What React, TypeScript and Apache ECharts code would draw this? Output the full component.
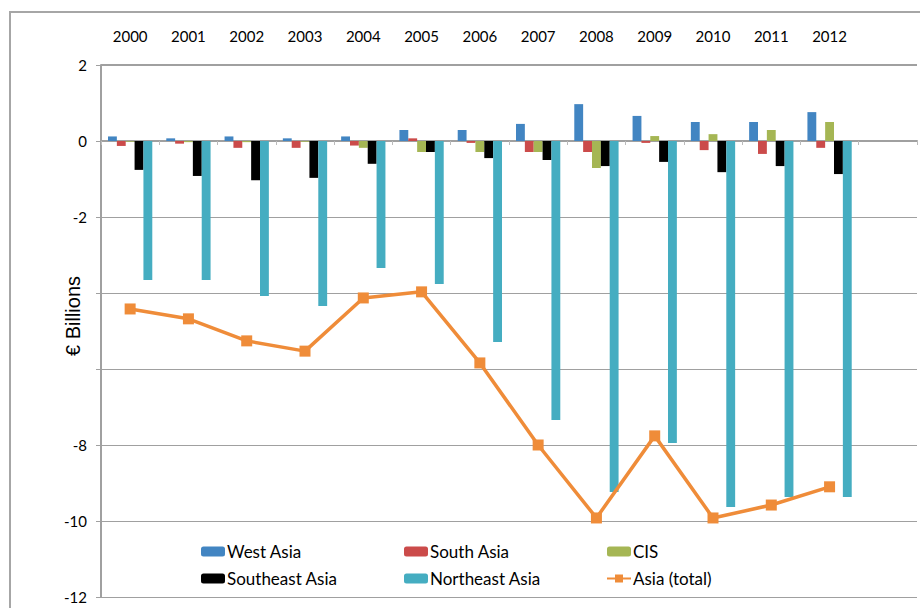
import React, { useEffect, useRef } from "react";
import * as echarts from "echarts";

// Years shown along the top; the trailing empty slot keeps the axis running on to the right edge.
const years = ["2000", "2001", "2002", "2003", "2004", "2005", "2006", "2007", "2008", "2009", "2010", "2011", "2012", ""];

// Balances in € billions per region
const westAsia = [0.12, 0.07, 0.12, 0.07, 0.12, 0.29, 0.29, 0.45, 0.97, 0.66, 0.5, 0.5, 0.76];
const southAsia = [-0.13, -0.07, -0.18, -0.18, -0.12, 0.07, -0.05, -0.29, -0.29, -0.05, -0.24, -0.34, -0.18];
const cis = [-0.02, -0.03, -0.03, -0.02, -0.18, -0.29, -0.29, -0.29, -0.71, 0.13, 0.18, 0.29, 0.5];
const southeastAsia = [-0.76, -0.92, -1.03, -0.97, -0.6, -0.29, -0.45, -0.5, -0.66, -0.55, -0.82, -0.66, -0.87];
const northeastAsia = [-3.66, -3.66, -4.08, -4.34, -3.34, -3.76, -5.29, -7.34, -9.24, -7.95, -9.63, -9.37, -9.37];
const asiaTotal = [-4.42, -4.68, -5.26, -5.53, -4.13, -3.97, -5.84, -8.0, -9.92, -7.76, -9.92, -9.58, -9.1];

// Value-axis labels left blank on the chart
const hiddenTicks = [-4, -6];

const labelFont = "Lato, 'Open Sans', sans-serif";
const gridGray = "#a0a0a0";

export default function App() {
  const ref = useRef<HTMLDivElement>(null);

  useEffect(() => {
    if (!ref.current) return;
    const chart = echarts.init(ref.current, undefined, { renderer: "svg" });

    const bar = (name: string, data: number[], color: string) => ({
      name,
      type: "bar",
      data,
      xAxisIndex: 0,
      barGap: "0%",
      barCategoryGap: "24%",
      itemStyle: { color },
      z: 3,
    });

    const legendBase = {
      orient: "vertical",
      top: 543,
      padding: 0,
      itemGap: 10,
      itemWidth: 24,
      itemHeight: 10,
      textStyle: { fontFamily: labelFont, fontSize: 17, color: "#000", padding: [0, 0, 0, -3] },
    };

    chart.setOption({
      animation: false,
      backgroundColor: "#fff",
      grid: { left: 101, top: 65, right: 3, bottom: 11, containLabel: false },
      xAxis: [
        {
          type: "category",
          data: years,
          axisLine: { onZero: true, lineStyle: { color: gridGray, width: 2 } },
          axisTick: { show: true, length: 4, lineStyle: { color: "#bbbbbb", width: 1 } },
          axisLabel: { show: false },
          splitLine: { show: false },
        },
        {
          type: "category",
          data: years,
          position: "top",
          axisLine: { show: false },
          axisTick: { show: false },
          axisLabel: { margin: 22, fontFamily: labelFont, fontSize: 15, color: "#000" },
        },
      ],
      yAxis: {
        type: "value",
        min: -12,
        max: 2,
        interval: 2,
        axisLine: { show: true, lineStyle: { color: gridGray, width: 2 } },
        axisTick: { show: true, length: 5, lineStyle: { color: gridGray, width: 1 } },
        axisLabel: {
          margin: 14,
          fontFamily: labelFont,
          fontSize: 15,
          color: "#000",
          formatter: (v: number) => (hiddenTicks.includes(v) ? "" : String(v)),
        },
        splitLine: { show: true, lineStyle: { color: gridGray, width: 1 } },
      },
      legend: [
        { ...legendBase, left: 201, data: ["West Asia", "Southeast Asia"] },
        { ...legendBase, left: 404, data: ["South Asia", "Northeast Asia"] },
        { ...legendBase, left: 606, data: ["CIS", "Asia (total)"] },
      ],
      graphic: [
        {
          type: "rect",
          shape: { x: 10, y: 12, width: 930, height: 620 },
          style: { fill: "none", stroke: "#a6a6a6", lineWidth: 2 },
          silent: true,
        },
        {
          type: "text",
          x: 73,
          y: 316,
          rotation: Math.PI / 2,
          style: {
            text: "€ Billions",
            fontFamily: "'Liberation Sans', Arial, sans-serif",
            fontSize: 20,
            fill: "#000",
            align: "center",
            verticalAlign: "middle",
          },
        },
      ],
      series: [
        bar("West Asia", westAsia, "#4285c2"),
        bar("South Asia", southAsia, "#cb4b4a"),
        bar("CIS", cis, "#a5b654"),
        bar("Southeast Asia", southeastAsia, "#000000"),
        {
          ...bar("Northeast Asia", northeastAsia, "#45adc1"),
          markLine: {
            silent: true,
            symbol: "none",
            label: { show: false },
            lineStyle: { color: gridGray, width: 2, type: "solid" },
            data: [{ yAxis: 2 }],
          },
        },
        {
          name: "Asia (total)",
          type: "line",
          data: asiaTotal,
          xAxisIndex: 0,
          symbol: "rect",
          symbolSize: 11,
          lineStyle: { color: "#ef8c39", width: 3.5 },
          itemStyle: { color: "#ef8c39" },
          z: 5,
        },
      ],
    });

    return () => chart.dispose();
  }, []);

  return <div ref={ref} style={{ position: "fixed", left: 0, top: 0, width: 920, height: 608 }} />;
}
